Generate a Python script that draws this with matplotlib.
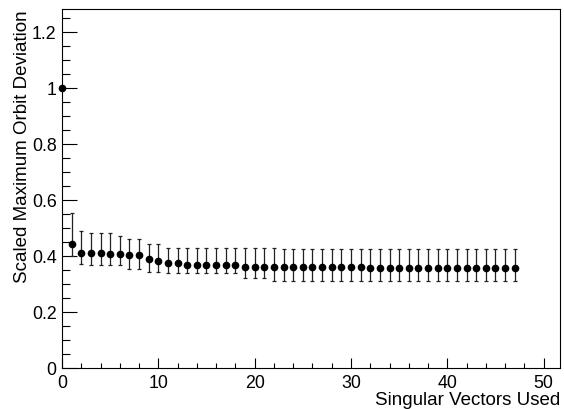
import matplotlib
matplotlib.use("Agg")
import matplotlib.pyplot as plt
from matplotlib.ticker import MultipleLocator, FuncFormatter
import numpy as np

plt.rcParams['font.family'] = ['Liberation Sans', 'DejaVu Sans']

# Data
n_vectors = list(range(48))
deviation = [1.000, 0.443, 0.410, 0.410, 0.410, 0.407, 0.407, 0.404, 0.404, 0.388,
             0.383, 0.374, 0.374, 0.367, 0.367, 0.367, 0.367, 0.367, 0.367, 0.362,
             0.362, 0.362, 0.362, 0.360, 0.360, 0.360, 0.360, 0.360, 0.360, 0.360,
             0.360, 0.360, 0.358, 0.358, 0.358, 0.358, 0.358, 0.358, 0.358, 0.358,
             0.358, 0.358, 0.356, 0.356, 0.356, 0.356, 0.356, 0.356]
upper = [1.000, 0.554, 0.490, 0.481, 0.481, 0.481, 0.473, 0.461, 0.461, 0.443,
         0.443, 0.429, 0.429, 0.429, 0.429, 0.429, 0.429, 0.429, 0.429, 0.429,
         0.429, 0.429, 0.429] + [0.425] * 25
lower = [1.000, 0.399, 0.370, 0.367, 0.367, 0.367, 0.367, 0.354, 0.354, 0.343,
         0.343, 0.338, 0.338, 0.338, 0.338, 0.338, 0.338, 0.338, 0.338, 0.323,
         0.323, 0.323] + [0.312] * 26

x = np.array(n_vectors)
y = np.array(deviation)
err_lo = y - np.array(lower)
err_hi = np.array(upper) - y

fig = plt.figure(figsize=(5.64, 4.10), dpi=100)
ax = fig.add_axes([62/564, 41/410, (560-62)/564, (369-10)/410])

ax.errorbar(x, y, yerr=[err_lo, err_hi], fmt='o', color='black', ms=4.5,
            ecolor='#222222', elinewidth=0.9, capsize=1.3, capthick=0.9, clip_on=False)

ax.set_xlim(0, 51.7)
ax.set_ylim(0, 1.282)

ax.xaxis.set_major_locator(MultipleLocator(10))
ax.xaxis.set_minor_locator(MultipleLocator(2))
ax.yaxis.set_major_locator(MultipleLocator(0.2))
ax.yaxis.set_minor_locator(MultipleLocator(0.05))

fmt = FuncFormatter(lambda v, p: '%g' % round(v, 3))
ax.xaxis.set_major_formatter(fmt)
ax.yaxis.set_major_formatter(fmt)

ax.tick_params(axis='x', which='major', direction='in', length=10.5*0.72, width=0.8,
               labelsize=12.8, pad=4.3, top=False)
ax.tick_params(axis='x', which='minor', direction='in', length=5.3*0.72, width=0.8, top=False)
ax.tick_params(axis='y', which='major', direction='in', length=15*0.72, width=0.8,
               labelsize=12.8, pad=3.8, right=False)
ax.tick_params(axis='y', which='minor', direction='in', length=7.5*0.72, width=0.8, right=False)

for s in ax.spines.values():
    s.set_linewidth(0.8)
    s.set_color('black')

ax.set_xlabel('Singular Vectors Used', fontsize=13.5, ha='right', x=1.0, labelpad=0)
ax.set_ylabel('Scaled Maximum Orbit Deviation', fontsize=13.5, ha='right', y=1.0, labelpad=1)

fig.savefig('out.png', dpi=100)
